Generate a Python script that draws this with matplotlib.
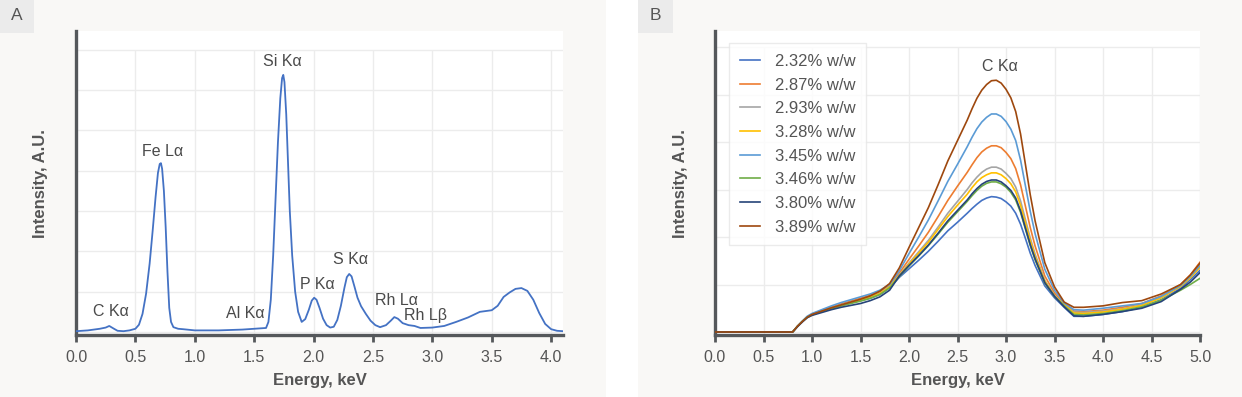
import matplotlib
matplotlib.use("Agg")
import matplotlib.pyplot as plt
from matplotlib.patches import Rectangle

plt.rcParams['font.family'] = ['Liberation Sans', 'DejaVu Sans']

W, H = 1242, 397

# ---- panel A : full spectrum ----
energy_a = [0.0, 0.1, 0.2, 0.25, 0.28, 0.32, 0.35, 0.4, 0.45, 0.5, 0.53, 0.56, 0.59, 0.62,
            0.645, 0.67, 0.69, 0.705, 0.715, 0.725, 0.74, 0.755, 0.77, 0.785, 0.8, 0.82,
            0.86, 0.9, 1.0, 1.2, 1.4, 1.5, 1.6, 1.62, 1.64, 1.66, 1.68, 1.7, 1.72, 1.735,
            1.745, 1.755, 1.77, 1.785, 1.8, 1.82, 1.845, 1.87, 1.9, 1.93, 1.96, 1.985,
            2.005, 2.025, 2.05, 2.08, 2.11, 2.14, 2.17, 2.2, 2.23, 2.26, 2.28, 2.3, 2.32,
            2.345, 2.37, 2.4, 2.44, 2.48, 2.52, 2.56, 2.61, 2.65, 2.68, 2.71, 2.75, 2.8,
            2.85, 2.9, 3.0, 3.1, 3.2, 3.3, 3.4, 3.5, 3.55, 3.6, 3.65, 3.7, 3.75, 3.8, 3.85,
            3.9, 3.95, 4.0, 4.05, 4.1]
intensity_a = [0.02, 0.04, 0.08, 0.11, 0.15, 0.08, 0.03, 0.02, 0.04, 0.08, 0.18, 0.45, 0.95, 1.7,
               2.5, 3.35, 3.95, 4.17, 4.19, 4.05, 3.5, 2.6, 1.5, 0.6, 0.25, 0.12,
               0.08, 0.07, 0.04, 0.04, 0.06, 0.08, 0.1, 0.25, 0.8, 1.9, 3.3, 4.7, 5.8, 6.3,
               6.38, 6.2, 5.4, 4.2, 3.0, 1.9, 1.0, 0.5, 0.25, 0.32, 0.55, 0.78,
               0.85, 0.8, 0.6, 0.33, 0.17, 0.11, 0.13, 0.3, 0.65, 1.1, 1.36, 1.44, 1.38,
               1.12, 0.85, 0.64, 0.45, 0.28, 0.17, 0.12, 0.17, 0.28, 0.37, 0.33, 0.22, 0.17,
               0.15, 0.1, 0.11, 0.15, 0.25, 0.36, 0.5, 0.54, 0.65, 0.87, 0.98, 1.07, 1.09, 1.02, 0.8,
               0.47, 0.2, 0.07, 0.03, 0.02]

peak_labels = ['C Kα', 'Fe Lα', 'Al Kα', 'Si Kα', 'P Kα', 'S Kα', 'Rh Lα', 'Rh Lβ']
peak_x = [0.295, 0.725, 1.425, 1.74, 2.03, 2.31, 2.70, 2.945]
peak_y = [0.5, 4.49, 0.47, 6.7, 1.19, 1.79, 0.79, 0.42]

# ---- panel B : C K-alpha region for several carbon contents ----
energy_b = [0.0, 0.8, 0.85, 0.9, 0.95, 1.0, 1.1, 1.2, 1.3, 1.4, 1.5, 1.6, 1.7, 1.8,
            1.9, 2.0, 2.1, 2.2, 2.3, 2.4, 2.5, 2.6, 2.65, 2.7, 2.75, 2.8, 2.85, 2.9, 2.95,
            3.0, 3.05, 3.1, 3.15, 3.2, 3.25, 3.3, 3.4, 3.5, 3.6, 3.7, 3.8, 4.0, 4.2, 4.4,
            4.6, 4.8, 4.9, 5.0]
labels_b = ['2.32% w/w', '2.87% w/w', '2.93% w/w', '3.28% w/w',
            '3.45% w/w', '3.46% w/w', '3.80% w/w', '3.89% w/w']
colors_b = ['#4472c4', '#ed7d31', '#a5a5a5', '#ffc000',
            '#5b9bd5', '#70ad47', '#264478', '#9e480e']
c232 = [0, 0, 0.12, 0.22, 0.31, 0.37, 0.44, 0.51, 0.57, 0.62, 0.66, 0.71, 0.79, 0.93,
        1.15, 1.33, 1.51, 1.70, 1.91, 2.13, 2.31, 2.50, 2.60, 2.69, 2.77, 2.82, 2.85, 2.84, 2.81,
        2.74, 2.65, 2.50, 2.27, 1.97, 1.66, 1.40, 0.97, 0.72, 0.52, 0.33, 0.33, 0.37, 0.43, 0.52,
        0.68, 0.92, 1.10, 1.30]
c287 = [0, 0, 0.12, 0.22, 0.32, 0.38, 0.45, 0.52, 0.59, 0.65, 0.71, 0.77, 0.85, 0.98,
        1.24, 1.53, 1.81, 2.10, 2.43, 2.77, 3.07, 3.36, 3.52, 3.67, 3.79, 3.87, 3.92, 3.92, 3.88,
        3.78, 3.65, 3.44, 3.10, 2.65, 2.20, 1.81, 1.18, 0.82, 0.59, 0.44, 0.43, 0.46, 0.52, 0.60,
        0.76, 1.00, 1.20, 1.47]
c293 = [0, 0, 0.12, 0.22, 0.31, 0.37, 0.44, 0.51, 0.57, 0.63, 0.68, 0.74, 0.82, 0.96,
        1.20, 1.45, 1.69, 1.93, 2.21, 2.50, 2.75, 3.00, 3.14, 3.26, 3.36, 3.43, 3.47, 3.47, 3.43,
        3.34, 3.23, 3.05, 2.76, 2.37, 1.98, 1.64, 1.09, 0.77, 0.57, 0.42, 0.41, 0.44, 0.49, 0.57,
        0.72, 0.96, 1.15, 1.38]
c328 = [0, 0, 0.12, 0.22, 0.31, 0.36, 0.43, 0.50, 0.56, 0.62, 0.67, 0.73, 0.81, 0.95,
        1.19, 1.43, 1.66, 1.89, 2.16, 2.43, 2.67, 2.90, 3.04, 3.16, 3.25, 3.31, 3.35, 3.35, 3.31,
        3.23, 3.12, 2.95, 2.67, 2.29, 1.92, 1.59, 1.07, 0.76, 0.57, 0.40, 0.39, 0.42, 0.48, 0.56,
        0.72, 0.96, 1.14, 1.36]
c345 = [0, 0, 0.12, 0.23, 0.33, 0.39, 0.47, 0.55, 0.62, 0.68, 0.74, 0.80, 0.88, 1.00,
        1.29, 1.65, 2.00, 2.36, 2.76, 3.17, 3.53, 3.90, 4.10, 4.28, 4.42, 4.52, 4.59, 4.59, 4.54,
        4.43, 4.27, 4.03, 3.62, 3.08, 2.54, 2.07, 1.32, 0.88, 0.61, 0.47, 0.46, 0.50, 0.55, 0.60,
        0.75, 0.98, 1.17, 1.40]
c346 = [0, 0, 0.12, 0.22, 0.31, 0.36, 0.43, 0.49, 0.55, 0.60, 0.65, 0.71, 0.79, 0.93,
        1.17, 1.39, 1.60, 1.82, 2.06, 2.31, 2.53, 2.75, 2.87, 2.98, 3.07, 3.13, 3.16, 3.16, 3.12,
        3.05, 2.94, 2.78, 2.52, 2.17, 1.82, 1.52, 1.03, 0.75, 0.55, 0.37, 0.36, 0.39, 0.45, 0.53,
        0.67, 0.88, 1.00, 1.13]
c380 = [0, 0, 0.11, 0.21, 0.30, 0.35, 0.41, 0.47, 0.52, 0.56, 0.60, 0.66, 0.74, 0.88,
        1.18, 1.40, 1.61, 1.83, 2.08, 2.34, 2.56, 2.78, 2.91, 3.02, 3.11, 3.17, 3.20, 3.20, 3.16,
        3.08, 2.98, 2.82, 2.55, 2.19, 1.84, 1.54, 1.04, 0.75, 0.53, 0.34, 0.33, 0.37, 0.43, 0.50,
        0.64, 0.90, 1.05, 1.25]
c389 = [0, 0, 0.12, 0.22, 0.31, 0.37, 0.44, 0.51, 0.57, 0.63, 0.69, 0.76, 0.86, 1.02,
        1.35, 1.78, 2.20, 2.62, 3.10, 3.60, 4.03, 4.46, 4.70, 4.92, 5.09, 5.21, 5.29, 5.30, 5.24,
        5.11, 4.93, 4.64, 4.17, 3.53, 2.89, 2.34, 1.46, 0.95, 0.63, 0.52, 0.52, 0.55, 0.62, 0.66,
        0.80, 1.00, 1.20, 1.45]
series_b = [c232, c287, c293, c328, c345, c346, c380, c389]

ticks_a = [0.0, 0.5, 1.0, 1.5, 2.0, 2.5, 3.0, 3.5, 4.0]
ticks_b = [0.0, 0.5, 1.0, 1.5, 2.0, 2.5, 3.0, 3.5, 4.0, 4.5, 5.0]

SPINE = '#55585b'
GRID = '#ececec'
TXT = '#555555'

fig = plt.figure(figsize=(W / 100, H / 100), dpi=100)
fig.patch.set_facecolor('white')


def fx(px):
    return px / W


def fy(py):
    return 1 - py / H


# panel backgrounds and letter boxes
fig.patches.append(Rectangle((0, 0), fx(606), 1, transform=fig.transFigure,
                             facecolor='#f9f8f6', edgecolor='none', zorder=-10))
fig.patches.append(Rectangle((fx(638), 0), fx(W - 638), 1, transform=fig.transFigure,
                             facecolor='#f9f8f6', edgecolor='none', zorder=-10))
fig.patches.append(Rectangle((0, fy(33)), fx(34), 33 / H, transform=fig.transFigure,
                             facecolor='#ebebeb', edgecolor='none', zorder=-9))
fig.patches.append(Rectangle((fx(638), fy(33)), fx(35), 33 / H, transform=fig.transFigure,
                             facecolor='#ebebeb', edgecolor='none', zorder=-9))
fig.text(fx(17), fy(16), 'A', ha='center', va='center', fontsize=12.5, color=TXT)
fig.text(fx(655.5), fy(16), 'B', ha='center', va='center', fontsize=12.5, color=TXT)


def make_axes(left, right, unit, xmax, ticks, ngrid):
    top, bottom, base = 31, 335, 332
    ax = fig.add_axes([fx(left), fy(bottom), fx(right - left), (bottom - top) / H])
    ax.set_facecolor('white')
    ax.set_xlim(0, xmax)
    ax.set_ylim(-(bottom - base) / unit, (base - top) / unit)
    for s in ['top', 'right']:
        ax.spines[s].set_visible(False)
    for s in ['left', 'bottom']:
        ax.spines[s].set_color(SPINE)
        ax.spines[s].set_linewidth(2.4)
    ax.set_yticks([])
    ax.set_xticks(ticks)
    ax.set_xticklabels(['%.1f' % t for t in ticks])
    ax.tick_params(axis='x', direction='out', length=5, width=2, color=SPINE,
                   labelsize=11.5, labelcolor=TXT, pad=6)
    for g in range(ngrid + 1):
        ax.axhline(g, color=GRID, lw=1, zorder=0)
    ax.vlines(ticks[1:], ax.get_ylim()[0], ngrid, color=GRID, lw=1, zorder=0)
    cx = (left + right) / 2
    fig.text(fx(cx), fy(381), 'Energy, keV', ha='center', va='center',
             fontsize=12, fontweight='bold', color=TXT)
    fig.text(fx(left - 35), fy(184), 'Intensity, A.U.', ha='center', va='center',
             rotation=90, fontsize=12, fontweight='bold', color=TXT)
    return ax


axA = make_axes(76, 563, 40.3, 4.1, ticks_a, 7)
axA.plot(energy_a, intensity_a, color='#4472c4', lw=1.3, zorder=3)
for lab, x, y in zip(peak_labels, peak_x, peak_y):
    axA.text(x, y, lab, ha='center', va='center', fontsize=11.5, color='#4a4a4a')

axB = make_axes(715, 1200, 47.5, 5.0, ticks_b, 6)
for vals, col, lab in zip(series_b, colors_b, labels_b):
    axB.plot(energy_b, vals, color=col, lw=1.2, label=lab, zorder=3)
axB.text(2.94, 5.58, 'C Kα', ha='center', va='center', fontsize=11.5, color='#4a4a4a')
leg = axB.legend(loc='upper left', bbox_to_anchor=((729 - 715) / 485, 1 - 12 / 304),
                 fontsize=12, frameon=True, fancybox=False, handlelength=1.2,
                 handletextpad=0.9, labelspacing=0.52, borderpad=0.65, borderaxespad=0)
leg.get_frame().set_edgecolor('#e6e6e6')
leg.get_frame().set_linewidth(1)
for t in leg.get_texts():
    t.set_color(TXT)

fig.savefig('out.png', dpi=100, facecolor=fig.get_facecolor())
